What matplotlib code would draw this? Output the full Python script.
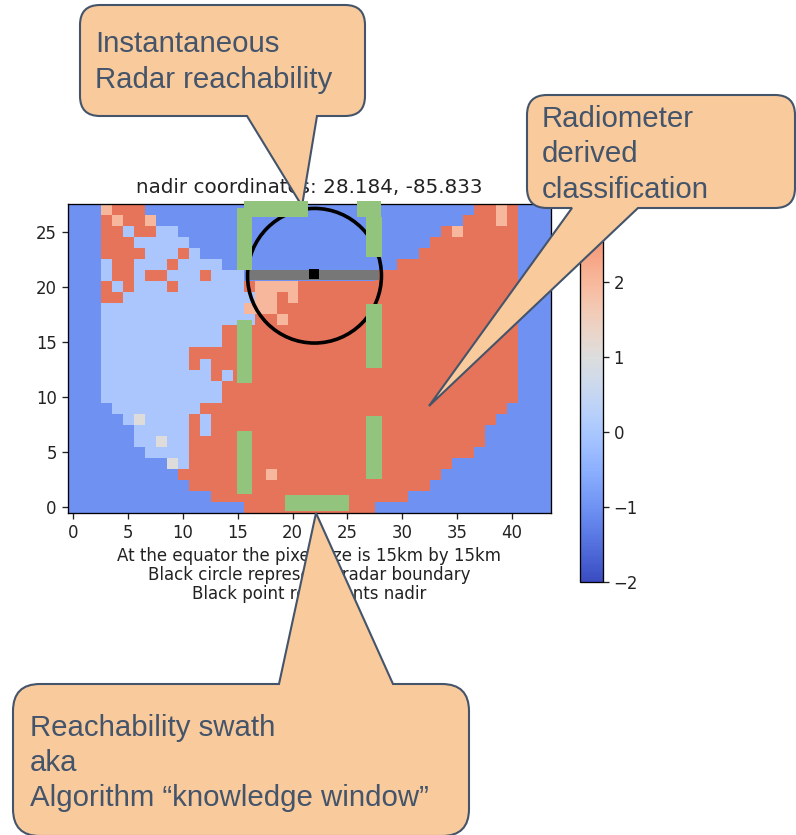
import numpy as np
import matplotlib
matplotlib.use('Agg')
import matplotlib.pyplot as plt
from matplotlib.patches import Circle, Rectangle, PathPatch
from matplotlib.path import Path

W, H = 796, 835
N_COLS = 44

# class map, one list per row from the top (y=27) down; each pair is (first column, class)
# the class holds until the next pair, everything left of the first pair is -1
rows = [
    [(3,2),(4,3),(7,-1),(37,3),(39,2),(40,3),(41,-1)],
    [(3,3),(4,2),(5,3),(7,2),(8,-1),(36,3),(39,2),(40,3),(41,-1)],
    [(3,3),(5,0),(6,3),(8,0),(10,-1),(34,3),(35,2),(36,3),(41,-1)],
    [(3,3),(6,0),(11,-1),(33,3),(41,-1)],
    [(3,3),(7,0),(10,3),(11,0),(12,-1),(32,3),(41,-1)],
    [(3,0),(4,3),(6,0),(9,3),(10,0),(14,-1),(30,3),(41,-1)],
    [(3,0),(4,3),(6,0),(7,3),(9,0),(12,3),(13,0),(16,-1),(28,3),(41,-1)],
    [(3,3),(4,0),(5,3),(6,0),(9,3),(10,0),(16,3),(17,2),(21,3),(41,-1)],
    [(3,3),(5,0),(17,2),(19,3),(20,2),(21,3),(41,-1)],
    [(3,0),(16,2),(19,3),(41,-1)],
    [(3,0),(17,3),(19,2),(20,3),(41,-1)],
    [(3,0),(14,3),(41,-1)],
    [(3,0),(14,3),(41,-1)],
    [(3,0),(11,3),(41,-1)],
    [(3,0),(11,3),(12,0),(13,3),(41,-1)],
    [(3,0),(13,3),(14,0),(15,3),(41,-1)],
    [(3,0),(14,3),(41,-1)],
    [(3,0),(14,3),(41,-1)],
    [(4,0),(12,3),(40,-1)],
    [(5,0),(6,1),(7,0),(11,3),(12,0),(13,3),(39,-1)],
    [(6,0),(11,3),(12,0),(13,3),(38,-1)],
    [(6,0),(8,1),(9,0),(11,3),(38,-1)],
    [(7,0),(11,3),(37,-1)],
    [(9,1),(10,0),(11,3),(35,-1)],
    [(10,3),(18,2),(19,3),(34,-1)],
    [(11,3),(33,-1)],
    [(13,3),(31,-1)],
    [(16,3),(28,-1)],
]

x_ticks = [0, 5, 10, 15, 20, 25, 30, 35, 40]
y_ticks = [0, 5, 10, 15, 20, 25]
# 3 and 4 sit behind the radiometer callout
cbar_ticks = [-2, -1, 0, 1, 2]
circle_center = (22, 21)
radar_radius = 6.1
nadir = (22.0, 21.2)

title = 'nadir coordinates: 28.184, -85.833'
xlabel = ('At the equator the pixel size is 15km by 15km\n'
          'Black circle represents radar boundary\n'
          'Black point represents nadir')

# reachability swath pieces, data units: x, y, width, height
swath = [
    (14.9, 21.5, 1.45, 5.6),
    (15.6, 26.3, 5.85, 1.45),
    (25.85, 26.3, 2.25, 1.45),
    (26.7, 22.7, 1.45, 3.6),
    (14.9, 11.3, 1.45, 5.7),
    (14.9, 1.2, 1.45, 5.7),
    (26.7, 12.6, 1.45, 5.8),
    (26.7, 2.55, 1.45, 5.7),
    (19.3, -0.36, 5.8, 1.45),
]
track = (15.9, 20.65, 11.95, 0.9)

grid = np.full((len(rows), N_COLS), -1)
for i, row in enumerate(rows):
    for start, val in row:
        grid[i, start:] = val


def callout(ov, box, tail, side, r):
    # rounded box with a pointed tail, in pixel coordinates of the overlay
    x0, y0, x1, y1 = box
    a, tip, b = tail
    C3, M, L = Path.CURVE3, Path.MOVETO, Path.LINETO
    v = [(x0 + r, y0)]
    c = [M]
    if side == 'top':
        v += [a, tip, b]
        c += [L, L, L]
    v += [(x1 - r, y0), (x1, y0), (x1, y0 + r), (x1, y1 - r), (x1, y1), (x1 - r, y1)]
    c += [L, C3, C3, L, C3, C3]
    if side == 'bottom':
        v += [b, tip, a]
        c += [L, L, L]
    v += [(x0 + r, y1), (x0, y1), (x0, y1 - r), (x0, y0 + r), (x0, y0), (x0 + r, y0)]
    c += [L, C3, C3, L, C3, C3]
    ov.add_patch(PathPatch(Path(v, c), fc='#f9cb9c', ec='#44546a', lw=1.5, zorder=2))


plt.rcParams['axes.linewidth'] = 0.95
plt.rcParams['xtick.major.size'] = 4.2
plt.rcParams['ytick.major.size'] = 4.2
plt.rcParams['xtick.major.width'] = 0.95
plt.rcParams['ytick.major.width'] = 0.95

fig = plt.figure(figsize=(W / 100, H / 100), dpi=100)
ax = fig.add_axes([67.5 / W, 1 - 513 / H, 483 / W, 309 / H])
im = ax.imshow(grid[::-1], origin='lower', cmap='coolwarm', vmin=-2, vmax=4,
               aspect='auto', interpolation='nearest')
ax.set_xticks(x_ticks)
ax.set_yticks(y_ticks)
ax.tick_params(labelsize=11.9, colors='#222222')
ax.set_title(title, fontsize=14.3, color='#222222', pad=8)
ax.set_xlabel(xlabel, fontsize=12, color='#222222', labelpad=4, linespacing=1.05)
ax.add_patch(Circle(circle_center, radar_radius, fill=False, ec='black', lw=2.6, zorder=3))
ax.add_patch(Rectangle(track[:2], track[2], track[3], fc='#777777', ec='none', zorder=2))
ax.scatter([nadir[0]], [nadir[1]], marker='s', s=42, c='black', linewidths=0, zorder=4)

cax = fig.add_axes([580 / W, 1 - 582 / H, 23 / W, 450 / H])
cb = fig.colorbar(im, cax=cax)
cb.set_ticks(cbar_ticks)
cax.tick_params(labelsize=11.9, colors='#222222')

ov = fig.add_axes([0, 0, 1, 1], zorder=5)
ov.set_xlim(0, W)
ov.set_ylim(H, 0)
ov.axis('off')
ov.patch.set_alpha(0)

callout(ov, (80, 5, 365, 116), ((247, 116), (302, 206), (317, 116)), 'bottom', 20)
callout(ov, (527, 95, 795, 208), ((572, 208), (429, 406), (638, 208)), 'bottom', 20)
callout(ov, (13, 684, 469, 836), ((279, 684), (316, 513), (393, 684)), 'top', 27)

text_kw = dict(family='Liberation Sans', fontsize=21.2, color='#44546a', zorder=6, va='baseline')
ov.text(95, 52, 'Instantaneous', **text_kw)
ov.text(95, 88, 'Radar reachability', **text_kw)
ov.text(542, 127, 'Radiometer', **text_kw)
ov.text(542, 162, 'derived', **text_kw)
ov.text(542, 198, 'classification', **text_kw)
ov.text(30, 736, 'Reachability swath', **text_kw)
ov.text(30, 771, 'aka', **text_kw)
ov.text(30, 806, 'Algorithm \u201cknowledge window\u201d', **text_kw)

# swath sits on top of the callout tails
for x, y, w, h in swath:
    ov.add_patch(Rectangle((x, y), w, h, transform=ax.transData, fc='#93c47d', ec='none', zorder=4))

fig.savefig('out.png', dpi=100)
